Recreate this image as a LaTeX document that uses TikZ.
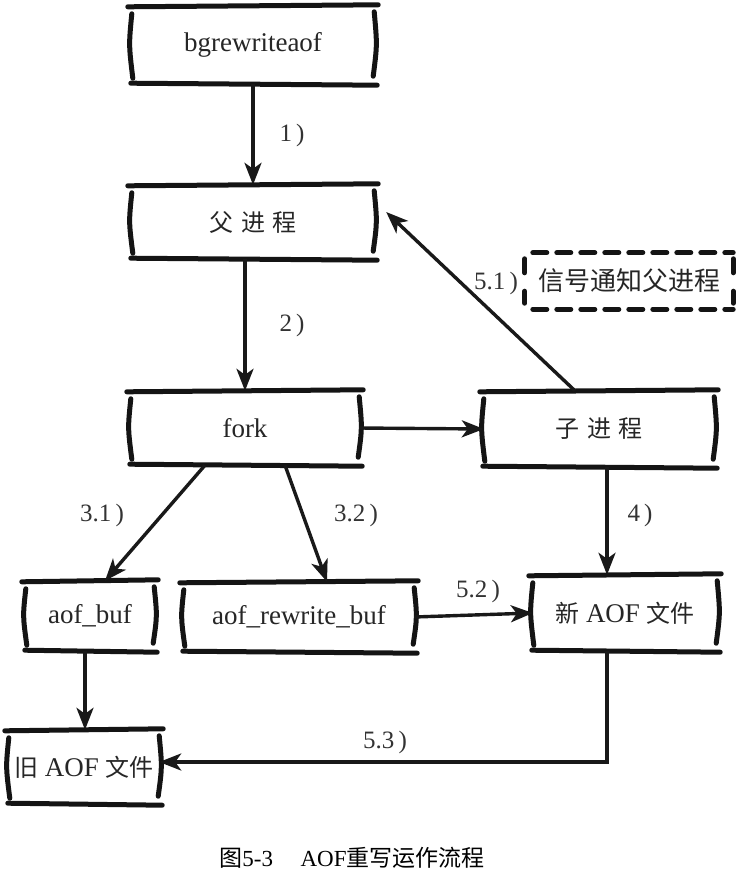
\documentclass[tikz,border=0pt]{standalone}
\usepackage{fontspec}
\setmainfont{Liberation Serif}
\newfontfamily\cjk{Noto Sans CJK SC}
\usetikzlibrary{arrows.meta}
\tikzset{
  bx/.style={minimum width=#1, minimum height=74pt, inner sep=0pt, font=\fontsize{27}{30}\selectfont, text=black!85},
  bx/.default=240pt,
  skline/.style={line width=5pt, line cap=round, black!92},
  arr/.style={line width=3.4pt, black!90, -{Stealth[length=22pt,width=17pt,inset=6pt]}},
  lab/.style={font=\fontsize{25}{28}\selectfont, text=black!80},
}
\newcommand\skframe[2][]{%
  \draw[skline,#1] ([xshift=-4pt,yshift=-1pt]#2.north west) -- ([xshift=4pt,yshift=1pt]#2.north east);
  \draw[skline,#1] ([xshift=-1pt,yshift=1pt]#2.south west) -- ([xshift=3pt,yshift=-1pt]#2.south east);
  \draw[skline,#1] ([xshift=0pt,yshift=-8pt]#2.north west) .. controls ([xshift=-3pt]#2.west) .. ([xshift=1pt,yshift=6pt]#2.south west);
  \draw[skline,#1] ([xshift=0pt,yshift=-6pt]#2.north east) .. controls ([xshift=3pt]#2.east) .. ([xshift=-1pt,yshift=8pt]#2.south east);
}
\begin{document}
\begin{tikzpicture}[x=1pt,y=-1pt]
\useasboundingbox (0,0) rectangle (742,878);
\fill[white] (0,0) rectangle (742,878);

\node[bx=242pt,minimum height=78pt] (bg) at (253,45) {bgrewriteaof};
\node[bx=242pt,minimum height=74pt] (fa) at (253,222) {{\cjk\fontsize{24}{28}\selectfont 父\hspace{0.3em}进\hspace{0.3em}程}};
\node[bx=228pt,minimum height=74pt] (fk) at (245,428) {fork};
\node[bx=230pt,minimum height=76pt] (ch) at (599,429) {{\cjk\fontsize{24}{28}\selectfont 子\hspace{0.3em}进\hspace{0.3em}程}};
\node[bx=208pt,minimum height=56pt] (sig) at (629,281) {{\cjk\fontsize{26}{28}\selectfont 信号通知父进程}};
\node[bx=128pt,minimum height=70pt] (ab) at (90,616) {aof\_buf};
\node[bx=230pt,minimum height=70pt] (arb) at (299,617) {aof\_rewrite\_buf};
\node[bx=184pt,minimum height=76pt] (nw) at (625,613) {{\cjk\fontsize{24}{28}\selectfont 新} AOF {\cjk\fontsize{24}{28}\selectfont 文件}};
\node[bx=150pt,minimum height=74pt] (old) at (84,767) {{\cjk\fontsize{24}{28}\selectfont 旧} AOF {\cjk\fontsize{24}{28}\selectfont 文件}};

\skframe{bg}
\skframe{fa}
\skframe{fk}
\skframe{ch}
\skframe{ab}
\skframe{arb}
\skframe{nw}
\skframe{old}
\draw[skline,dash pattern=on 14pt off 10pt] ([xshift=8pt]sig.north west) -- (sig.north east);
\draw[skline,dash pattern=on 14pt off 10pt] ([xshift=8pt]sig.south west) -- (sig.south east);
\draw[skline] ([yshift=-6pt]sig.north west) -- ([yshift=-20pt]sig.north west);
\draw[skline] ([yshift=6pt]sig.south west) -- ([yshift=18pt]sig.south west);
\draw[skline] ([yshift=-6pt]sig.north east) -- ([yshift=-20pt]sig.north east);
\draw[skline] ([yshift=6pt]sig.south east) -- ([yshift=18pt]sig.south east);

\draw[arr] (bg.south) -- (fa.north);
\node[lab] at (292,135) {1\,)};
\draw[arr] ([xshift=-8pt]fa.south) -- ([xshift=0pt]fk.north);
\node[lab] at (292,325) {2\,)};
\draw[arr] (fk.east) -- (ch.west);
\draw[arr] ([xshift=-24pt]ch.north) -- ([xshift=12pt,yshift=10pt]fa.east);
\node[lab] at (496,283) {5.1\,)};
\draw[arr] ([xshift=-40pt]fk.south) -- ([xshift=15pt]ab.north);
\node[lab] at (102,515) {3.1\,)};
\draw[arr] ([xshift=40pt]fk.south) -- ([xshift=28pt]arb.north);
\node[lab] at (356,515) {3.2\,)};
\draw[arr] ([xshift=8pt]ch.south) -- ([xshift=-18pt]nw.north);
\node[lab] at (640,515) {4\,)};
\draw[arr] (arb.east) -- (nw.west);
\node[lab] at (478,591) {5.2\,)};
\draw[arr] ([xshift=-5pt]ab.south) -- ([xshift=1pt]old.north);
\coordinate (c53) at ([xshift=-18pt]nw.south |- old.east);
\draw[arr] ([xshift=-18pt]nw.south) -- ([yshift=5pt]c53) -- ([yshift=5pt]old.east);
\node[lab] at (385,742) {5.3\,)};

\node[font=\fontsize{23}{26}\selectfont] (cap) at (352,858) {{\cjk 图}5-3\hspace{1.2em}AOF{\cjk 重写运作流程}};
\end{tikzpicture}
\end{document}
